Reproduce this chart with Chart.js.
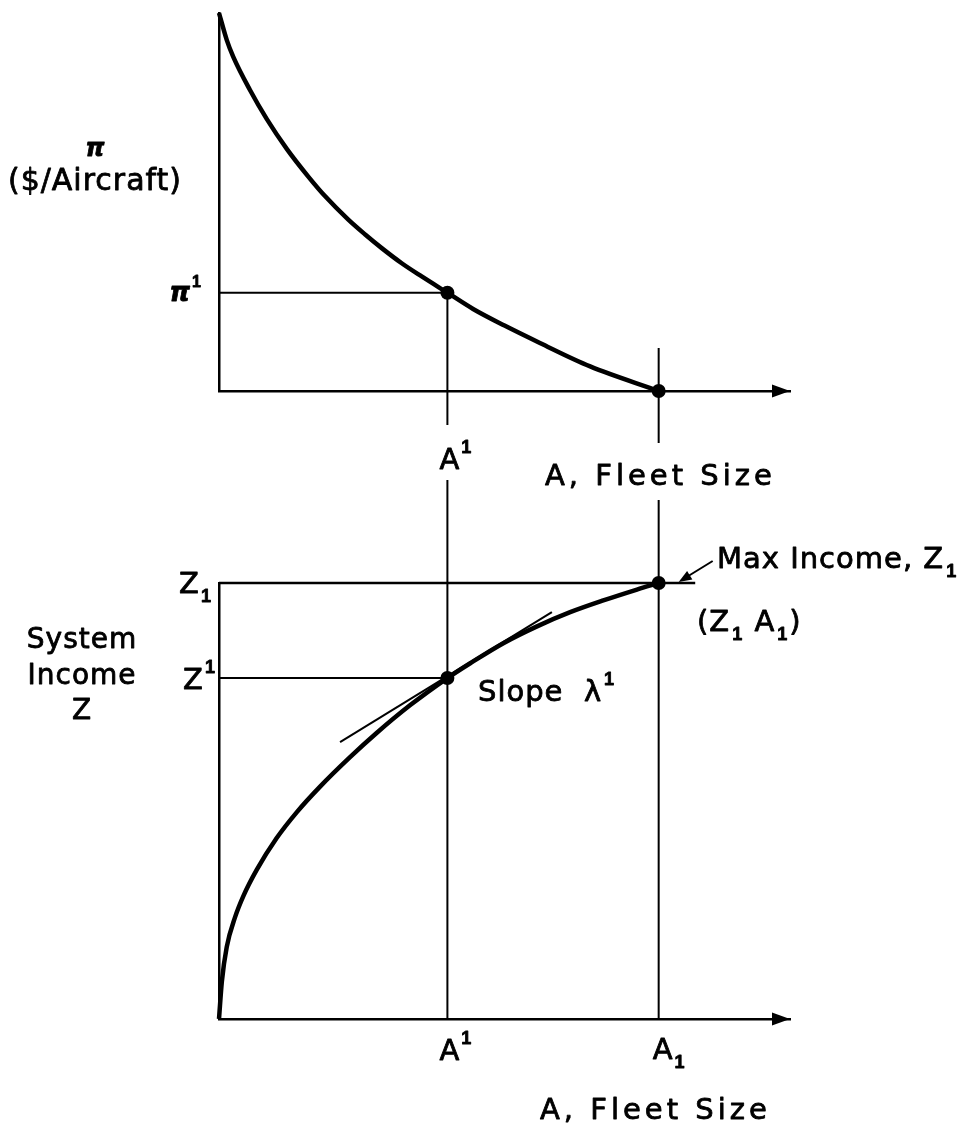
<!DOCTYPE html>
<html>
<head>
<meta charset="utf-8">
<title>Fleet size, profit per aircraft and system income</title>
<script src="https://cdn.jsdelivr.net/npm/chart.js@4.4.0/dist/chart.umd.min.js"></script>
<style>
  html, body { margin: 0; padding: 0; background: #fff; }
  #wrap { position: relative; width: 958px; height: 1129px; overflow: hidden; }
  canvas { position: absolute; left: 0; }
  #profitChart { top: 0; width: 958px; height: 500px; }
  #incomeChart { top: 500px; width: 958px; height: 629px; }
</style>
</head>
<body>
<div id="wrap">
  <canvas id="profitChart" width="958" height="500"></canvas>
  <canvas id="incomeChart" width="958" height="629"></canvas>
</div>
<script>
// --- data (axes run 0..100 on both panels) ---
const fleetSizeTop = [0, 1.35, 2.5, 5.4, 8.35, 11.9, 15.6, 18.6, 22.6, 25.6, 28.5, 32, 35.5, 40, 44.5, 50, 56.2, 65, 77];
const profitPerAircraft = [100, 92.9, 88.4, 79.7, 72.0, 64.0, 56.8, 51.5, 45.4, 41.4, 37.8, 33.8, 30.3, 26, 21.7, 17.3, 12.7, 6.5, 0];

const fleetSizeBottom = [0, 0.5, 1.35, 2.8, 4.3, 6.6, 10.1, 13.6, 17.7, 22.9, 27.6, 33.5, 40, 44, 49.8, 55.6, 61.5, 67.3, 73.2, 77];
const systemIncome = [0, 8.6, 16.5, 23.3, 28.3, 34.2, 41.5, 47.4, 53.3, 60.0, 65.6, 72.0, 78.2, 81.6, 86.2, 90.0, 93.3, 96.0, 98.5, 100];

const aPrime = 40;      // A'
const aOne = 77;        // A1
const piPrime = 26;     // pi'
const zPrime = 78.2;    // Z'
const zOne = 100;       // Z1
const zOneLineEnd = 83.4;
const tangentA = [21.2, 58.3];
const tangentZ = [63.5, 93.3];

const FONT = '"DejaVu Sans", sans-serif';
const IDX_FONT = '"Liberation Sans", sans-serif';

// text made of parts; {t, pos:'sup'|'sub'} for the little index "1"
function drawRich(ctx, parts, x, y, align, size, spacing, mainFont) {
  const mf = mainFont || (size + 'px ' + FONT);
  const idf = 'bold ' + Math.round(size * 0.62) + 'px ' + IDX_FONT;
  const items = parts.map(p => typeof p === 'string' ? {t: p, pos: null} : p);
  ctx.save();
  ctx.fillStyle = '#000';
  ctx.strokeStyle = '#000';
  ctx.lineWidth = 0.8;
  ctx.lineJoin = 'round';
  ctx.textBaseline = 'alphabetic';
  ctx.letterSpacing = (spacing || 0) + 'px';
  const widths = items.map(it => {
    ctx.font = it.pos ? idf : mf;
    return ctx.measureText(it.t).width + (it.pos ? 3 : 0);
  });
  const total = widths.reduce((a, b) => a + b, 0);
  let cx = x;
  if (align === 'center') cx = x - total / 2;
  else if (align === 'right') cx = x - total;
  else if (align === 'first') cx = x - widths[0] / 2;
  const base = y + size * 0.365;
  items.forEach((it, i) => {
    ctx.font = it.pos ? idf : mf;
    let dy = 0;
    if (it.pos === 'sup') dy = -size * 0.55;
    if (it.pos === 'sub') dy = size * 0.33;
    ctx.fillText(it.t, cx + (it.pos ? 2 : 0), base + dy);
    ctx.strokeText(it.t, cx + (it.pos ? 2 : 0), base + dy);
    cx += widths[i];
  });
  ctx.restore();
}

function vline(ctx, x, y1, y2, w) {
  ctx.save();
  ctx.strokeStyle = '#000';
  ctx.lineWidth = w || 2;
  ctx.beginPath();
  ctx.moveTo(x, y1);
  ctx.lineTo(x, y2);
  ctx.stroke();
  ctx.restore();
}

function arrowHead(ctx, tipX, tipY, angle, len, half) {
  ctx.save();
  ctx.translate(tipX, tipY);
  ctx.rotate(angle);
  ctx.fillStyle = '#000';
  ctx.beginPath();
  ctx.moveTo(0, 0);
  ctx.lineTo(-len, -half);
  ctx.lineTo(-len, half);
  ctx.closePath();
  ctx.fill();
  ctx.restore();
}

function pairs(xs, ys) {
  return xs.map((v, i) => ({x: v, y: ys[i]}));
}

function baseScales() {
  return {
    x: {
      type: 'linear', min: 0, max: 100,
      ticks: {display: false},
      grid: {display: false, drawTicks: false},
      border: {display: true, color: '#000', width: 2.5}
    },
    y: {
      type: 'linear', min: 0, max: 100,
      ticks: {display: false},
      grid: {display: false, drawTicks: false},
      border: {display: true, color: '#000', width: 2.5}
    }
  };
}

const commonPlugins = {legend: {display: false}, tooltip: {enabled: false}};

// --- top panel: pi ($/Aircraft) vs fleet size ---
const topGuides = {
  id: 'topGuides',
  beforeDatasetsDraw(chart) {
    const ctx = chart.ctx, sx = chart.scales.x, sy = chart.scales.y;
    const xa = sx.getPixelForValue(aPrime), x1 = sx.getPixelForValue(aOne);
    vline(ctx, xa, sy.getPixelForValue(piPrime), 425);
    vline(ctx, xa, 480, chart.height);
    vline(ctx, x1, 348, 443);
  },
  afterDraw(chart) {
    const ctx = chart.ctx, a = chart.chartArea, sx = chart.scales.x, sy = chart.scales.y;
    arrowHead(ctx, a.right, a.bottom, 0, 18, 6.5);
    drawRich(ctx, ['\u03C0'], 95, 147, 'center', 24, 0, 'italic bold 24px ' + FONT);
    drawRich(ctx, ['($/Aircraft)'], 95, 179, 'center', 30, 1);
    drawRich(ctx, ['\u03C0', {t: '1', pos: 'sup'}], a.left - 17, sy.getPixelForValue(piPrime) - 1, 'right', 26, 0, 'italic bold 26px ' + FONT);
    drawRich(ctx, ['A', {t: '1', pos: 'sup'}], sx.getPixelForValue(aPrime) + 2, 458, 'first', 29, 0);
    drawRich(ctx, ['A, Fleet Size'], 545, 474, 'left', 29, 4);
  }
};

new Chart(document.getElementById('profitChart'), {
  type: 'scatter',
  data: {
    datasets: [
      {
        data: pairs(fleetSizeTop, profitPerAircraft),
        showLine: true, borderColor: '#000', borderWidth: 4.5,
        pointRadius: 0, cubicInterpolationMode: 'monotone', clip: false
      },
      {
        data: [{x: 0, y: piPrime}, {x: aPrime, y: piPrime}],
        showLine: true, borderColor: '#000', borderWidth: 2, pointRadius: 0, clip: false
      },
      {
        data: [{x: aPrime, y: piPrime}, {x: aOne, y: 0}],
        showLine: false, pointRadius: 7, pointBackgroundColor: '#000', pointBorderWidth: 0, clip: false
      }
    ]
  },
  options: {
    responsive: false, animation: false,
    layout: {padding: {left: 219, right: 168, top: 13, bottom: 109}},
    scales: baseScales(),
    plugins: commonPlugins
  },
  plugins: [topGuides]
});

// --- bottom panel: system income Z vs fleet size ---
const bottomGuides = {
  id: 'bottomGuides',
  beforeDatasetsDraw(chart) {
    const ctx = chart.ctx, a = chart.chartArea, sx = chart.scales.x;
    vline(ctx, sx.getPixelForValue(aPrime), 0, a.bottom);
    vline(ctx, sx.getPixelForValue(aOne), 0, a.bottom);
  },
  afterDraw(chart) {
    const ctx = chart.ctx, a = chart.chartArea, sx = chart.scales.x, sy = chart.scales.y;
    const off = 500;
    arrowHead(ctx, a.right, a.bottom, 0, 18, 6.5);
    drawRich(ctx, ['Z', {t: '1', pos: 'sub'}], a.left - 7, sy.getPixelForValue(zOne) - 1, 'right', 29, 0);
    drawRich(ctx, ['Z', {t: '1', pos: 'sup'}], a.left - 3, sy.getPixelForValue(zPrime), 'right', 29, 0);
    drawRich(ctx, ['System'], 82, 638 - off, 'center', 28, 1);
    drawRich(ctx, ['Income'], 82, 674 - off, 'center', 28, 1);
    drawRich(ctx, ['Z'], 82, 709 - off, 'center', 28, 1);
    drawRich(ctx, ['Max Income, Z', {t: '1', pos: 'sub'}], 717, 557 - off, 'left', 29, 1);
    drawRich(ctx, ['(Z', {t: '1', pos: 'sub'}, ' A', {t: '1', pos: 'sub'}, ')'], 697, 620 - off, 'left', 29, 1);
    drawRich(ctx, ['Slope  \u03BB', {t: '1', pos: 'sup'}], 478, 690 - off, 'left', 29, 1);
    drawRich(ctx, ['A', {t: '1', pos: 'sup'}], sx.getPixelForValue(aPrime) + 2, 1049 - off, 'first', 29, 0);
    drawRich(ctx, ['A', {t: '1', pos: 'sub'}], sx.getPixelForValue(aOne) + 4, 1048 - off, 'first', 29, 0);
    drawRich(ctx, ['A, Fleet Size'], 540, 1108 - off, 'left', 29, 4);
    // pointer from the "Max Income" note to the maximum
    const tipX = sx.getPixelForValue(aOne) + 20, tipY = sy.getPixelForValue(zOne) - 1;
    ctx.save();
    ctx.strokeStyle = '#000';
    ctx.lineWidth = 2;
    ctx.beginPath();
    ctx.moveTo(tipX + 34, tipY - 21);
    ctx.lineTo(tipX + 8, tipY - 5);
    ctx.stroke();
    ctx.restore();
    arrowHead(ctx, tipX, tipY, Math.atan2(21, -34), 13, 5);
  }
};

new Chart(document.getElementById('incomeChart'), {
  type: 'scatter',
  data: {
    datasets: [
      {
        data: pairs(fleetSizeBottom, systemIncome),
        showLine: true, borderColor: '#000', borderWidth: 4.5,
        pointRadius: 0, cubicInterpolationMode: 'monotone', clip: false
      },
      {
        data: [{x: 0, y: zOne}, {x: zOneLineEnd, y: zOne}],
        showLine: true, borderColor: '#000', borderWidth: 2.5, pointRadius: 0, clip: false
      },
      {
        data: [{x: 0, y: zPrime}, {x: aPrime, y: zPrime}],
        showLine: true, borderColor: '#000', borderWidth: 2, pointRadius: 0, clip: false
      },
      {
        data: pairs(tangentA, tangentZ),
        showLine: true, borderColor: '#000', borderWidth: 2, pointRadius: 0, clip: false
      },
      {
        data: [{x: aPrime, y: zPrime}, {x: aOne, y: zOne}],
        showLine: false, pointRadius: 7, pointBackgroundColor: '#000', pointBorderWidth: 0, clip: false
      }
    ]
  },
  options: {
    responsive: false, animation: false,
    layout: {padding: {left: 219, right: 168, top: 83, bottom: 110}},
    scales: baseScales(),
    plugins: commonPlugins
  },
  plugins: [bottomGuides]
});
</script>
</body>
</html>
